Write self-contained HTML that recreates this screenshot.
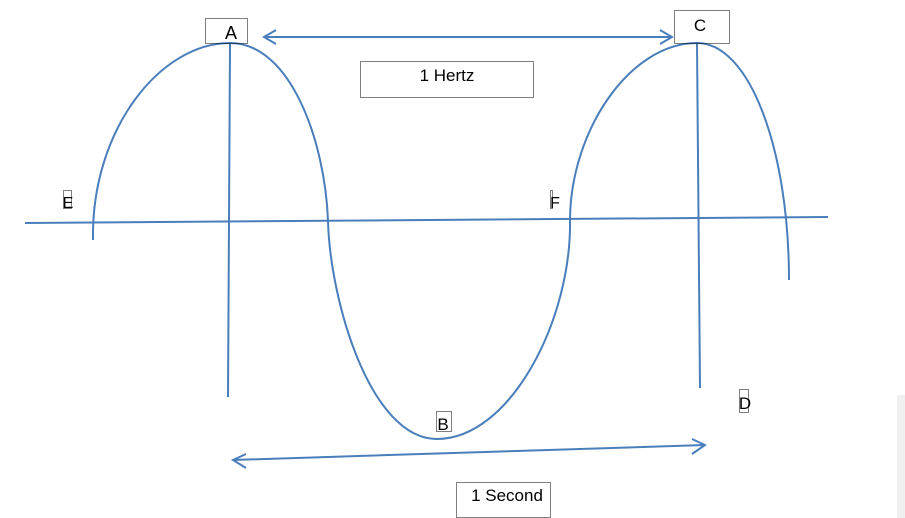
<!DOCTYPE html>
<html><head><meta charset="utf-8"><style>
html,body{margin:0;padding:0;background:#fff;width:905px;height:518px;overflow:hidden}
svg{display:block}
text{font-family:"Liberation Sans","DejaVu Sans",sans-serif;fill:#000}
</style></head><body>
<svg width="905" height="518" viewBox="0 0 905 518" xmlns="http://www.w3.org/2000/svg">
<rect x="897" y="395" width="8" height="123" fill="#f0f0f0"/>
<g fill="none" stroke="#4a7ebb" stroke-width="2">
<path d="M93,240 C91,130 160,43 230,43 C290,43 325,140 328,221 C330,300 370,439 437,439 C510,439 572,320 570,219 C571,130 630,43 697,43 C750,43 789,150 789,280"/>
<line x1="25" y1="223" x2="828" y2="217"/>
<line x1="230" y1="43" x2="228" y2="397"/>
<line x1="697" y1="43" x2="700" y2="388"/>
<line x1="264" y1="37" x2="672" y2="37"/>
<polyline points="276,30 264,37 276,44"/>
<polyline points="660,30 672,37 660,44"/>
<line x1="233" y1="460" x2="705" y2="445"/>
<polyline points="246,454 233,460 246,468"/>
<polyline points="692,439 705,445 692,454"/>
</g>
<g fill="none" stroke="#000" stroke-width="1" stroke-dasharray="1,1">
<rect x="205.5" y="18.5" width="42" height="25"/>
<rect x="674.5" y="10.5" width="55" height="33"/>
<rect x="360.5" y="61.5" width="173" height="36"/>
<rect x="456.5" y="482.5" width="94" height="35"/>
<rect x="436.5" y="411.5" width="15" height="20"/>
<rect x="739.5" y="389.5" width="9" height="23"/>
<rect x="63.5" y="190.5" width="8" height="18"/>
<rect x="550.5" y="190.5" width="2" height="18"/>
</g>
<text x="231" y="39" font-size="18" text-anchor="middle">A</text>
<text x="700" y="31" font-size="17" text-anchor="middle">C</text>
<text x="447" y="81" font-size="17" text-anchor="middle">1 Hertz</text>
<text x="507" y="501" font-size="17" text-anchor="middle">1 Second</text>
<text x="443" y="430" font-size="17" text-anchor="middle">B</text>
<text x="745" y="409" font-size="17" text-anchor="middle">D</text>
<text x="68" y="208" font-size="16" text-anchor="middle">E</text>
<text x="555" y="208" font-size="16" text-anchor="middle">F</text>
</svg>
</body></html>
